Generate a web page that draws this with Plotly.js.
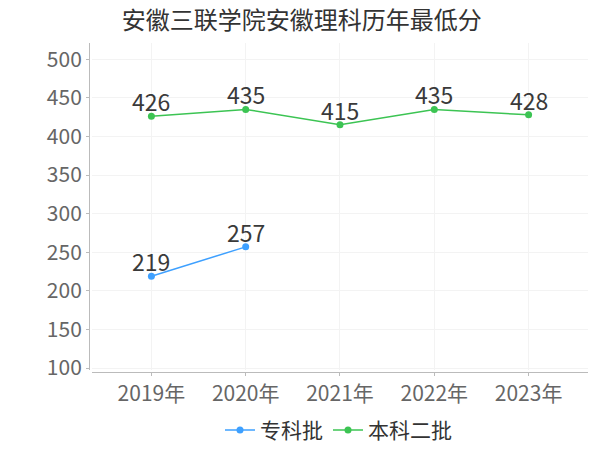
<!DOCTYPE html>
<html>
<head>
<meta charset="utf-8">
<script src="https://cdn.plot.ly/plotly-3.0.1.min.js"></script>
<style>html,body{margin:0;padding:0;background:#fff;}#chart{width:600px;height:450px;}</style>
</head>
<body>
<div id="chart"></div>
<script>
const years = ['2019年', '2020年', '2021年', '2022年', '2023年'];
const zhuanke = [219, 257, null, null, null];
const benke2 = [426, 435, 415, 435, 428];
const seriesNames = ['专科批', '本科二批'];
const yTicks = [100, 150, 200, 250, 300, 350, 400, 450, 500];

const FONT = '"Noto Sans CJK SC", "Noto Sans", sans-serif';
const blue = '#3ea0ff';
const green = '#3cc453';

function trace(name, vals, color) {
  return {
    type: 'scatter', mode: 'lines+markers', name: name,
    x: years, y: vals,
    line: {color: color, width: 1.5},
    marker: {color: color, size: 7},
    cliponaxis: false, connectgaps: false
  };
}

const data = [trace(seriesNames[0], zhuanke, blue), trace(seriesNames[1], benke2, green)];

const annotations = [];
[zhuanke, benke2].forEach(vals => {
  vals.forEach((v, i) => {
    if (v == null) return;
    annotations.push({
      x: years[i], y: v, xref: 'x', yref: 'y', text: String(v), showarrow: false,
      xanchor: 'center', yanchor: 'bottom', yshift: -4,
      font: {family: FONT, size: 23, color: '#3a3a3a'}
    });
  });
});

const layout = {
  width: 600, height: 450,
  margin: {l: 89, r: 12, t: 43, b: 78, autoexpand: false},
  paper_bgcolor: '#fff', plot_bgcolor: '#fff',
  font: {family: FONT, color: '#666'},
  title: {text: '安徽三联学院安徽理科历年最低分', x: 0.503, xanchor: 'center', y: 0.955, yanchor: 'middle',
          font: {family: FONT, size: 24, color: '#333'}},
  showlegend: true,
  legend: {orientation: 'h', x: 0.5, xanchor: 'center', y: -0.115, yanchor: 'top',
           font: {family: FONT, size: 21, color: '#333'}, itemwidth: 30, tracegroupgap: 0},
  annotations: annotations,
  xaxis: {
    type: 'category', range: [-0.63, 4.63], domain: [0.006, 1],
    anchor: 'free', position: 0,
    showline: true, linecolor: '#bbb', linewidth: 1,
    showgrid: true, gridcolor: '#f3f3f3', gridwidth: 1,
    ticks: 'outside', ticklen: 3, tickcolor: '#bbb',
    tickfont: {family: FONT, size: 21, color: '#666'},
    zeroline: false
  },
  yaxis: {
    range: [97.5, 521], domain: [0.006, 1],
    anchor: 'free', position: 0,
    tickvals: yTicks,
    showline: true, linecolor: '#bbb', linewidth: 1,
    showgrid: true, gridcolor: '#f3f3f3', gridwidth: 1,
    ticks: 'outside', ticklen: 3, tickcolor: '#bbb',
    tickfont: {family: FONT, size: 21, color: '#666'},
    zeroline: false
  }
};

Plotly.newPlot('chart', data, layout, {displayModeBar: false, staticPlot: true});
</script>
</body>
</html>
